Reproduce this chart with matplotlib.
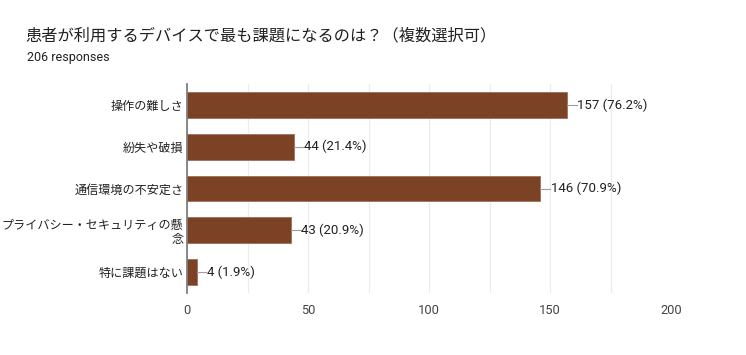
import matplotlib
matplotlib.use('Agg')
import matplotlib.pyplot as plt
import numpy as np

plt.rcParams['font.family'] = ['Roboto', 'Noto Sans CJK JP', 'DejaVu Sans']

# Data
categories = ['操作の難しさ', '紛失や破損', '通信環境の不安定さ',
              'プライバシー・セキュリティの懸\n念', '特に課題はない']
counts = [157, 44, 146, 43, 4]
percents = [76.2, 21.4, 70.9, 20.9, 1.9]
total = 206

bar_color = '#7b4226'
y = np.arange(len(categories))

fig = plt.figure(figsize=(7.46, 3.55), dpi=100)
ax = fig.add_axes([0.2507, 0.175, 0.6488, 0.588])

ax.barh(y, counts, height=0.62, color=bar_color, edgecolor='#a0705a', linewidth=0.6, zorder=3)

# value labels with small leader line
for yi, c, p in zip(y, counts, percents):
    ax.plot([c, c + 4], [yi, yi], color='#9e9e9e', linewidth=0.8, zorder=3, clip_on=False)
    ax.text(c + 4.3, yi, f'{c} ({p}%)', va='center', ha='left', fontsize=9.5,
            color='#212121', family=['Roboto', 'Noto Sans CJK JP'])

ax.set_xlim(0, 200)
ax.set_ylim(len(categories) - 0.5, -0.5)
ax.set_xticks([0, 50, 100, 150, 200])
ax.set_xticks([25, 75, 125, 175], minor=True)
ax.grid(True, axis='x', which='both', color='#ececec', linewidth=0.8, zorder=0)
ax.tick_params(axis='x', which='both', length=0, labelsize=9.3, colors='#444444', pad=8)
ax.tick_params(axis='y', length=0, labelsize=8.7, colors='#212121', pad=2.5)
ax.set_yticks(y)
ax.set_yticklabels(categories, family=['Noto Sans CJK JP', 'Roboto'], linespacing=1.15)
for lbl in ax.get_yticklabels():
    lbl.set_horizontalalignment('right')
    lbl.set_multialignment('right')

for side in ['top', 'right', 'bottom']:
    ax.spines[side].set_visible(False)
ax.spines['left'].set_color('#757575')
ax.spines['left'].set_linewidth(1.2)
ax.spines['left'].set_zorder(4)

fig.text(0.034, 0.90, '患者が利用するデバイスで最も課題になるのは？（複数選択可）',
         fontsize=11.7, color='#212121', va='center', ha='left',
         family=['Noto Sans CJK JP', 'Roboto'])
fig.text(0.036, 0.838, f'{total} responses', fontsize=9, color='#212121',
         va='center', ha='left', family=['Roboto', 'Noto Sans CJK JP'])

fig.savefig('out.png', dpi=100)
